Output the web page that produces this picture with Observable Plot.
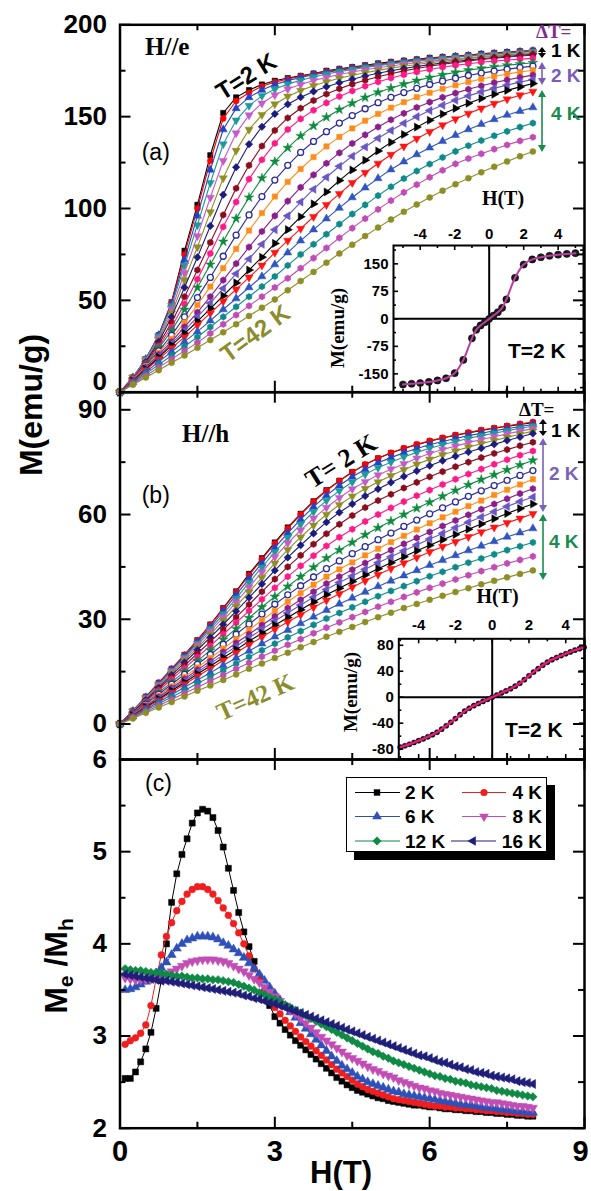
<!DOCTYPE html>
<html><head><meta charset="utf-8">
<script src="https://cdn.jsdelivr.net/npm/d3@7"></script>
<script src="https://cdn.jsdelivr.net/npm/@observablehq/plot@0.6"></script>
<style>
html,body{margin:0;padding:0;background:#fff}
#wrap{position:relative;width:591px;height:1191px;overflow:hidden;background:#fff}
#wrap > svg{position:absolute;left:0;top:0}
</style></head><body><div id="wrap"></div>
<script>
// ---------- DATA ----------
// field grid (T) for panels (a) and (b)
const fieldAB = [0,0.25,0.5,0.75,1,1.25,1.5,1.75,2,2.25,2.5,2.75,3,3.25,3.5,3.75,4,4.25,4.5,4.75,5,5.25,5.5,5.75,6,6.25,6.5,6.75,7,7.25,7.5,7.75,8];
const temps = [2,3,4,5,6,7,8,9,10,12,14,16,18,20,22,26,30,34,38,42];

// (a) H//e  M (emu/g)
const ma2 = [0,8,18,31,49,77,102,129,152,160.5,164.5,167.5,169.5,171,172.2,173.5,175,176,177,178,179,179.8,180.5,181.2,182,182.5,183,183.5,184.2,184.7,185.2,185.6,186];
const ma3 = [0,8,18,31,49,75,100,126,149,158.5,163,166.5,168.8,170.5,172,173.3,174.6,175.7,176.7,177.7,178.6,179.5,180.3,181,181.7,182.3,182.9,183.4,184,184.5,185,185.5,186];
const ma4 = [0,8,18,31,48,72,96,121,143,154.5,160.5,164.5,167.5,169.6,171.3,172.8,174.1,175.3,176.3,177.3,178.2,179.1,179.9,180.6,181.3,182,182.6,183.1,183.7,184.2,184.7,185.2,185.7];
const ma5 = [0,8,18,30.5,47,69,91,114,135,148,156,161.3,165,167.7,169.8,171.6,173.2,174.5,175.7,176.8,177.8,178.7,179.5,180.3,181,181.7,182.3,182.9,183.4,183.9,184.4,184.9,185.4];
const ma6 = [0,8,17.5,29.5,45,65,85,106,126,141,150.8,157.3,161.8,165,167.5,169.6,171.4,172.9,174.3,175.5,176.6,177.6,178.5,179.3,180.1,180.8,181.5,182.1,182.7,183.3,183.8,184.3,184.8];
const ma7 = [0,8,17,28.5,43,61,79,98,116.5,131.5,143,151,156.8,161,164.2,166.8,169,170.9,172.5,173.9,175.2,176.4,177.4,178.4,179.3,180.1,180.9,181.6,182.3,182.9,183.5,184,184.5];
const ma8 = [0,7.5,16.5,27.5,41,57,73.5,90.5,107.5,122.5,135,144.5,151.5,156.7,160.6,163.7,166.3,168.5,170.4,172.1,173.6,175,176.2,177.3,178.3,179.2,180,180.8,181.5,182.2,182.8,183.4,184];
const ma9 = [0,7.5,16,26,38,52,66.5,81.5,96.5,111,123.5,134,142.5,149.3,154.6,158.8,162.3,165.2,167.7,169.8,171.7,173.4,174.9,176.2,177.4,178.5,179.4,180.3,181.1,181.8,182.4,183,183.5];
const ma10 = [0,7.5,15.5,25,35.5,48,61.5,75.5,90,103.5,116,126.5,135.5,143,148.8,153.5,157.5,161,164,166.6,168.9,171,172.8,174.3,175.7,176.9,177.9,178.8,179.6,180.2,180.8,181.3,181.7];
const ma12 = [0,7,15,24,33.5,45,57,69.5,82,94.5,106,116.5,125.5,133,139.5,145,149.7,153.8,157.3,160.4,163.2,165.6,167.7,169.6,171.3,172.8,174.1,175.3,176.3,177.2,178,178.7,179.3];
const ma14 = [0,7,14.5,22.5,31,41,51.5,62.5,74,85.5,96.5,106.5,115.5,123.5,130.5,136.5,141.8,146.5,150.6,154.3,157.6,160.5,163.1,165.4,167.5,169.3,170.9,172.4,173.7,174.8,175.8,176.7,177.5];
const ma16 = [0,7,14,21.5,29,38,47.5,57.5,67.5,78,88,97.5,106.5,114.5,121.5,128,133.8,139,143.6,147.8,151.5,154.9,157.9,160.6,163,165.2,167.1,168.9,170.5,171.9,173.2,174.3,175.3];
const ma18 = [0,6.5,13.5,20.5,27.5,35.5,43.5,52,61,70,79,87.5,96,104,111.5,118.3,124.6,130.3,135.4,140.1,144.4,148.3,151.8,155,157.9,160.5,162.8,164.9,166.8,168.5,170,171.4,172.6];
const ma20 = [0,6.5,13,19.5,26.5,33.5,41,48.5,56.5,64.5,72.5,80.5,88.5,96,103.5,110.5,117,123,128.5,133.5,138.2,142.5,146.4,150,153.3,156.2,158.9,161.3,163.5,165.4,167.2,168.8,170.2];
const ma22 = [0,6.2,12.5,19,25.5,32,38.5,45.5,52.5,59.5,66.5,73.5,81,88.5,95.5,102.5,109,115.2,121,126.3,131.3,136,140.3,144.3,148,151.4,154.5,157.3,159.9,162.2,164.3,166.2,168];
const ma26 = [0,6,12,18,24,30,36.5,43,49.5,56,62.5,69,76,82.5,89,95.5,102,108,114,119.5,124.5,129.3,133.8,138,141.8,145.4,148.7,151.7,154.5,157.1,159.5,161.7,163.7];
const ma30 = [0,5.5,11,16.5,22,27.5,33,39,45,51,57,63,69.5,76,82.5,88.5,94.5,100.3,106,111.3,116.4,121.2,125.5,129.4,133.1,136.6,139.9,143,145.9,148.5,150.9,153,155];
const ma34 = [0,5,10,15,20,25,30,35.5,41,46.5,52,57.5,63,69,75,80.5,86,91.5,97,102,107,111.8,116.3,120.4,124.2,127.8,131.1,134.2,137,139.6,142,144.3,146.5];
const ma38 = [0,4.5,9,13.5,18,22.5,27,32,37,42,47,52,57,62,67.5,73,78.5,84,89.3,94.5,99.5,104.3,108.8,113,117,120.8,124.3,127.2,129.8,132.3,134.6,136.8,138.8];
const ma42 = [0,4,8,12,16,20,24.2,28.4,32.6,37,41.5,46,50.5,55.5,60.5,65.5,70.5,75.5,80.3,85,89.6,94,98.2,102.2,106,109.7,113.2,116.5,119.7,122.7,125.6,128.4,131];

// (b) H//h  M (emu/g)
const mb2 = [0,3.8,7.8,11.8,15.8,19.8,24,28.5,33.2,38,43,47.5,52,56.3,60.2,63.8,67,69.7,72.2,74.3,76.1,77.6,78.9,80,81,81.9,82.7,83.4,84.1,84.7,85.3,85.8,86.3];
const mb3 = [0,3.8,7.8,11.8,15.8,19.8,24,28.4,33,37.8,42.6,47.2,51.7,56,60,63.6,66.8,69.6,72.1,74.3,76.1,77.7,79,80.1,81.1,82,82.8,83.5,84.2,84.8,85.4,86,86.5];
const mb4 = [0,3.7,7.6,11.5,15.5,19.4,23.5,27.8,32.3,37,41.6,46.1,50.5,54.7,58.6,62.2,65.5,68.3,70.8,72.9,74.8,76.3,77.7,78.9,80,80.9,81.8,82.6,83.3,84,84.6,85.2,85.8];
const mb5 = [0,3.7,7.5,11.3,15.2,19.1,23.1,27.2,31.5,36,40.5,44.9,49.3,53.4,57.2,60.8,64,66.8,69.3,71.5,73.4,75,76.5,77.8,79,80,80.9,81.8,82.6,83.3,84,84.7,85.3];
const mb6 = [0,3.6,7.3,11.1,14.9,18.7,22.6,26.5,30.6,34.9,39.2,43.5,47.8,51.8,55.5,58.9,62,64.8,67.3,69.4,71.3,73,74.5,76.1,77.5,78.6,79.6,80.6,81.5,82.3,83.1,83.9,84.6];
const mb7 = [0,3.5,7.1,10.8,14.5,18.2,21.9,25.7,29.6,33.7,37.8,41.9,46,49.9,53.5,56.9,60,62.8,65.2,67.4,69.3,71.1,72.8,74.4,75.8,77.1,78.2,79.3,80.3,81.2,82.1,83,83.9];
const mb8 = [0,3.4,6.9,10.4,14,17.6,21.2,24.8,28.5,32.3,36.2,40.1,44,47.7,51.2,54.6,57.8,60.6,63,65.3,67.3,69.2,70.9,72.5,74,75.4,76.7,77.9,79,80.1,81.2,82.2,83.2];
const mb9 = [0,3.3,6.6,10,13.4,16.8,20.2,23.6,27,30.6,34.2,37.9,41.5,45,48.3,51.5,54.5,57.2,59.7,62,64,65.8,67.6,69.2,70.8,72.3,73.7,75,76.3,77.5,78.6,79.7,80.7];
const mb10 = [0,3.2,6.4,9.6,12.8,16,19.2,22.4,25.7,29,32.4,35.7,39,42.2,45.3,48.2,51,53.5,55.8,58,60,61.9,63.7,65.4,67,68.6,70.1,71.6,73,74.4,75.7,77,78.2];
const mb12 = [0,3,6,9,12,15,18.1,21.1,24.2,27.3,30.4,33.5,36.5,39.4,42.2,44.9,47.5,49.8,52,54.2,56.2,58.1,60,61.8,63.5,65.2,66.9,68.5,70,71.4,72.8,74.2,75.5];
const mb14 = [0,2.8,5.7,8.5,11.4,14.2,17.1,19.9,22.8,25.7,28.6,31.5,34.3,37,39.6,42.1,44.5,46.7,48.8,50.8,52.8,54.7,56.6,58.4,60.2,61.9,63.6,65.2,66.8,68.3,69.8,71.2,72.6];
const mb16 = [0,2.7,5.4,8.1,10.8,13.5,16.2,18.9,21.6,24.3,27,29.7,32.4,35,37.5,39.9,42.2,44.3,46.3,48.3,50.2,52.1,53.9,55.7,57.5,59.2,60.8,62.4,64,65.6,67.1,68.6,70.1];
const mb18 = [0,2.6,5.2,7.7,10.3,12.9,15.5,18,20.6,23.2,25.7,28.3,30.8,33.2,35.6,37.9,40.2,42.2,44.2,46.1,48,49.8,51.6,53.3,55,56.7,58.3,59.9,61.5,63,64.5,66,67.4];
const mb20 = [0,2.5,5,7.4,9.9,12.4,14.9,17.3,19.8,22.2,24.7,27.1,29.5,31.8,34.1,36.3,38.5,40.5,42.4,44.3,46.2,47.9,49.6,51.3,53,54.6,56.2,57.8,59.3,60.8,62.3,63.7,65];
const mb22 = [0,2.4,4.8,7.1,9.5,11.9,14.3,16.6,19,21.3,23.7,26,28.3,30.5,32.7,34.9,37,38.9,40.8,42.7,44.5,46.2,47.9,49.6,51.2,52.8,54.3,55.8,57.3,58.8,60.3,61.7,63];
const mb26 = [0,2.3,4.6,6.8,9.1,11.4,13.7,15.9,18.2,20.4,22.7,24.9,27.1,29.2,31.3,33.4,35.4,37.3,39.2,41,42.8,44.5,46.1,47.7,49.3,50.8,52.2,53.6,55,56.3,57.6,58.9,60.2];
const mb30 = [0,2.1,4.2,6.3,8.4,10.5,12.6,14.7,16.8,18.9,20.9,23,25,26.9,28.8,30.7,32.6,34.4,36.1,37.8,39.4,41,42.5,44,45.5,46.9,48.3,49.7,51,52.3,53.6,54.8,56];
const mb34 = [0,1.9,3.9,5.8,7.7,9.6,11.6,13.5,15.4,17.3,19.2,21.1,23,24.8,26.6,28.4,30.2,31.8,33.4,35,36.6,38.1,39.5,40.9,42.3,43.6,44.9,46.2,47.4,48.6,49.8,50.9,52];
const mb38 = [0,1.8,3.5,5.3,7,8.8,10.5,12.3,14,15.8,17.5,19.3,21,22.7,24.3,26,27.6,29.1,30.6,32.1,33.6,35,36.4,37.7,39,40.2,41.4,42.6,43.8,44.9,46,47,48];
const mb42 = [0,1.6,3.2,4.7,6.3,7.9,9.5,11,12.6,14.2,15.8,17.3,18.9,20.4,22,23.5,25,26.4,27.8,29.2,30.6,31.9,33.2,34.4,35.6,36.7,37.8,38.9,40,41,42,43,44];

// (c) Me/Mh ratio
const fieldC = [0.1,0.2,0.3,0.4,0.5,0.6,0.7,0.8,0.9,1.0,1.1,1.2,1.3,1.4,1.5,1.6,1.7,1.8,1.9,2.0,2.1,2.2,2.3,2.4,2.5,2.6,2.7,2.8,2.9,3.0,3.1,3.2,3.3,3.4,3.5,3.6,3.7,3.8,3.9,4.0,4.1,4.2,4.3,4.4,4.5,4.6,4.7,4.8,4.9,5.0,5.1,5.2,5.3,5.4,5.5,5.6,5.7,5.8,5.9,6.0,6.1,6.2,6.3,6.4,6.5,6.6,6.7,6.8,6.9,7.0,7.1,7.2,7.3,7.4,7.5,7.6,7.7,7.8,7.9,8.0];
const legendLabels = ["2 K","4 K","6 K","8 K","12 K","16 K"];
const rc2 = [2.54,2.54,2.61,2.72,2.86,3.04,3.3,3.6,4.0,4.45,4.76,4.97,5.14,5.31,5.42,5.46,5.44,5.37,5.23,5.05,4.82,4.58,4.34,4.13,3.97,3.81,3.64,3.48,3.33,3.21,3.14,3.07,3.01,2.95,2.9,2.85,2.8,2.75,2.7,2.65,2.6,2.55,2.51,2.47,2.44,2.41,2.39,2.37,2.35,2.33,2.32,2.3,2.29,2.28,2.27,2.26,2.25,2.25,2.24,2.23,2.23,2.22,2.21,2.21,2.2,2.2,2.19,2.19,2.18,2.18,2.17,2.17,2.16,2.16,2.15,2.15,2.14,2.14,2.13,2.13];
const rc4 = [2.91,2.95,2.98,3.03,3.12,3.33,3.62,3.88,4.08,4.23,4.36,4.46,4.54,4.59,4.62,4.62,4.59,4.54,4.47,4.39,4.31,4.22,4.12,4.0,3.87,3.73,3.6,3.48,3.39,3.31,3.24,3.17,3.11,3.05,2.99,2.94,2.89,2.84,2.79,2.74,2.69,2.64,2.6,2.56,2.52,2.48,2.45,2.42,2.4,2.38,2.36,2.34,2.32,2.31,2.3,2.29,2.28,2.27,2.26,2.25,2.24,2.24,2.23,2.23,2.22,2.22,2.21,2.21,2.2,2.2,2.19,2.19,2.18,2.18,2.17,2.17,2.16,2.16,2.15,2.15];
const rc6 = [3.5,3.51,3.53,3.56,3.59,3.63,3.68,3.74,3.8,3.88,3.95,4.0,4.04,4.06,4.08,4.08,4.08,4.07,4.05,4.01,3.98,3.94,3.9,3.85,3.79,3.73,3.67,3.6,3.53,3.46,3.39,3.32,3.26,3.2,3.14,3.08,3.02,2.96,2.9,2.84,2.78,2.73,2.68,2.64,2.6,2.56,2.53,2.5,2.48,2.46,2.44,2.42,2.4,2.39,2.37,2.36,2.35,2.34,2.33,2.32,2.31,2.3,2.29,2.28,2.27,2.26,2.25,2.25,2.24,2.23,2.22,2.22,2.21,2.2,2.2,2.19,2.18,2.18,2.17,2.17];
const rc8 = [3.63,3.62,3.61,3.61,3.61,3.62,3.63,3.65,3.67,3.7,3.73,3.76,3.79,3.81,3.82,3.83,3.83,3.83,3.82,3.81,3.79,3.76,3.73,3.7,3.66,3.62,3.58,3.53,3.48,3.43,3.38,3.33,3.28,3.24,3.19,3.14,3.09,3.04,2.99,2.95,2.91,2.87,2.83,2.79,2.76,2.73,2.7,2.67,2.64,2.62,2.59,2.57,2.55,2.52,2.5,2.48,2.46,2.44,2.43,2.41,2.4,2.38,2.37,2.36,2.35,2.34,2.33,2.32,2.31,2.3,2.29,2.28,2.28,2.27,2.26,2.25,2.24,2.24,2.23,2.22];
const rc12 = [3.73,3.72,3.71,3.71,3.7,3.69,3.69,3.68,3.67,3.66,3.65,3.65,3.64,3.63,3.63,3.62,3.62,3.61,3.61,3.6,3.59,3.58,3.56,3.54,3.52,3.5,3.47,3.45,3.42,3.4,3.37,3.34,3.31,3.28,3.25,3.22,3.19,3.16,3.13,3.1,3.07,3.04,3.01,2.98,2.95,2.92,2.89,2.86,2.83,2.81,2.78,2.76,2.73,2.71,2.69,2.67,2.65,2.63,2.61,2.59,2.57,2.56,2.54,2.53,2.51,2.5,2.49,2.47,2.46,2.45,2.44,2.43,2.41,2.4,2.39,2.38,2.37,2.36,2.35,2.34];
const rc16 = [3.67,3.66,3.65,3.64,3.63,3.62,3.61,3.6,3.6,3.59,3.58,3.57,3.56,3.55,3.54,3.53,3.52,3.51,3.5,3.49,3.48,3.47,3.46,3.44,3.43,3.41,3.4,3.38,3.36,3.35,3.33,3.31,3.29,3.27,3.25,3.23,3.21,3.19,3.17,3.15,3.13,3.11,3.09,3.07,3.05,3.03,3.01,2.99,2.97,2.95,2.93,2.91,2.89,2.87,2.85,2.83,2.81,2.79,2.78,2.76,2.74,2.72,2.71,2.69,2.67,2.66,2.64,2.63,2.61,2.6,2.59,2.57,2.56,2.55,2.54,2.53,2.51,2.5,2.49,2.48];

// insets: T = 2 K loops
const insetA_H = [-5,-4.5,-4,-3.5,-3,-2.5,-2,-1.5,-1,-0.75,-0.5,-0.25,0,0.25,0.5,0.75,1,1.5,2,2.5,3,3.5,4,4.5,5];
const insetA_M = [-179,-177,-175,-172,-168,-162,-148,-112,-53,-30,-18,-9,0,9,18,30,53,112,148,162,168,172,175,177,179];
const insetB_H = [-5,-4.75,-4.5,-4.25,-4,-3.75,-3.5,-3.25,-3,-2.75,-2.5,-2.25,-2,-1.75,-1.5,-1.25,-1,-0.75,-0.5,-0.25,0,0.25,0.5,0.75,1,1.25,1.5,1.75,2,2.25,2.5,2.75,3,3.25,3.5,3.75,4,4.25,4.5,4.75,5];
const insetB_M = [-77,-74.8,-72.5,-69.8,-67,-64.2,-61,-57.8,-54,-49.3,-44,-38.7,-33,-27,-21.5,-17,-13,-9.7,-6.5,-3.2,0,3.2,6.5,9.7,13,17,21.5,27,33,38.7,44,49.3,54,57.8,61,64.2,67,69.8,72.5,74.8,77];

// axis tick values
const xMajor = [0,3,6,9], xMinor = [1.5,4.5,7.5];
const yMajorA = [0,50,100,150,200], yMinorA = [25,75,125,175];
const yMajorB = [0,30,60,90], yMinorB = [15,45,75];
const yMajorC = [2,3,4,5,6], yMinorC = [2.5,3.5,4.5,5.5];
const inAx = [-4,-2,0,2,4], inAxMin = [-5,-3,-1,1,3,5];
const inAy = [-150,-75,0,75,150], inAyMin = [-187.5,-112.5,-37.5,37.5,112.5,187.5];
const inBy = [-80,-40,0,40,80], inByMin = [-60,-20,20,60];

// ---------- STYLE ----------
const SANS = "'Liberation Sans', Arial, sans-serif";
const SERIF = "'Liberation Serif', 'Times New Roman', serif";
const S3 = Math.sqrt(3);
const triSym = (a) => ({draw(ctx, size) {
  const y = -Math.sqrt(size / (S3 * 3));
  const pts = [[0, 2 * y], [-S3 * y, -y], [S3 * y, -y]];
  const c = Math.cos(a), s = Math.sin(a);
  pts.forEach(([px, py], i) => { const X = px * c - py * s, Y = px * s + py * c; if (i) ctx.lineTo(X, Y); else ctx.moveTo(X, Y); });
  ctx.closePath();
}});
const triUp = triSym(0), triDown = triSym(Math.PI), triLeft = triSym(-Math.PI / 2), triRight = triSym(Math.PI / 2);
const hexSym = {draw(ctx, size) {
  const s = Math.sqrt(2 * size / (3 * S3));
  for (let i = 0; i < 6; i++) { const a = Math.PI / 3 * i + Math.PI / 6; const X = s * Math.cos(a), Y = s * Math.sin(a); if (i) ctx.lineTo(X, Y); else ctx.moveTo(X, Y); }
  ctx.closePath();
}};
const diamSym = {draw(ctx, size) { const r = Math.sqrt(size / 2); ctx.moveTo(0, -r); ctx.lineTo(r, 0); ctx.lineTo(0, r); ctx.lineTo(-r, 0); ctx.closePath(); }};

const abStyles = [
  {color: "#000000", sym: "square"},
  {color: "#ff0000", sym: "circle"},
  {color: "#2343c4", sym: triUp},
  {color: "#1f9a9a", sym: triDown},
  {color: "#c85ac8", sym: triDown},
  {color: "#8e8e22", sym: triDown},
  {color: "#1b1b80", sym: diamSym},
  {color: "#8a0d1e", sym: hexSym},
  {color: "#ff1a8a", sym: hexSym},
  {color: "#0e8a3e", sym: "star"},
  {color: "#2b2ba0", sym: "circle", fill: "#ffffff"},
  {color: "#ff8c1a", sym: "square"},
  {color: "#8a1f8a", sym: hexSym},
  {color: "#6a55c4", sym: triLeft},
  {color: "#000000", sym: triRight},
  {color: "#ff1414", sym: triDown},
  {color: "#2f55c0", sym: triUp},
  {color: "#0f8a8a", sym: hexSym},
  {color: "#c04cb4", sym: hexSym},
  {color: "#8e8e26", sym: "circle"}
];
const cStyles = [
  {color: "#000000", sym: "square"},
  {color: "#f01e1e", sym: "circle"},
  {color: "#2e50b8", sym: triUp},
  {color: "#c24db5", sym: triDown},
  {color: "#0f8a44", sym: diamSym},
  {color: "#1f1f7a", sym: triLeft}
];

const seriesA = [ma2,ma3,ma4,ma5,ma6,ma7,ma8,ma9,ma10,ma12,ma14,ma16,ma18,ma20,ma22,ma26,ma30,ma34,ma38,ma42];
const seriesB = [mb2,mb3,mb4,mb5,mb6,mb7,mb8,mb9,mb10,mb12,mb14,mb16,mb18,mb20,mb22,mb26,mb30,mb34,mb38,mb42];
const seriesC = [rc2,rc4,rc6,rc8,rc12,rc16];

// ---------- LAYOUT ----------
const W = 591, HT = 1191;
const X0 = 119.5, X1 = 584;
const wrap = document.getElementById("wrap");

function layer(opts) {
  const svg = Plot.plot({width: W, height: HT, ...opts, style: {background: "transparent", overflow: "visible"}});
  wrap.appendChild(svg);
  return svg;
}

function innerTicks({xMaj, xMin, yMaj, yMin, pw, ph, maj = 11, min = 6, sw = 2}) {
  const st = {stroke: "black", strokeWidth: sw};
  const m = [];
  const ty = (vals, len) => {
    m.push(Plot.tickY(vals, {y: d => d, insetRight: pw - len, ...st}));
    m.push(Plot.tickY(vals, {y: d => d, insetLeft: pw - len, ...st}));
  };
  const tx = (vals, len) => {
    m.push(Plot.tickX(vals, {x: d => d, insetTop: ph - len, ...st}));
    m.push(Plot.tickX(vals, {x: d => d, insetBottom: ph - len, ...st}));
  };
  ty(yMaj, maj); ty(yMin, min); tx(xMaj, maj); tx(xMin, min);
  return m;
}

function seriesMarks(xs, series, styles, r, lw) {
  return series.flatMap((vals, k) => {
    const s = styles[k];
    const data = vals.map((v, i) => ({h: xs[i], v}));
    return [
      Plot.line(data, {x: "h", y: "v", stroke: s.color, strokeWidth: lw}),
      Plot.dot(data, {x: "h", y: "v", r, symbol: s.sym, fill: s.fill || s.color, stroke: s.color, strokeWidth: s.fill ? 1.3 : 0.5})
    ];
  });
}

const tickFont = {fontSize: 26, fontWeight: "bold", fontFamily: SANS, fill: "black", tickFormat: d => String(d)};

// Panel (a)
const aTop = 24.3, aBot = 391.7;
layer({
  marginLeft: X0, marginRight: W - X1, marginTop: aTop, marginBottom: HT - aBot,
  x: {domain: [0, 9], axis: null}, y: {domain: [0, 200]},
  marks: [
    ...seriesMarks(fieldAB, seriesA, abStyles, 3, 1.1),
    Plot.frame({stroke: "black", strokeWidth: 2.5}),
    ...innerTicks({xMaj: xMajor, xMin: xMinor, yMaj: yMajorA, yMin: yMinorA, pw: X1 - X0, ph: aBot - aTop}),
    Plot.axisY(yMajorA.filter(d => d > 0), {tickSize: 0, tickPadding: 13, label: null, ...tickFont}),
    Plot.text(yMajorA.filter(d => d === 0), {y: d => d, text: d => String(d), frameAnchor: "left", textAnchor: "end", dx: -13, dy: -11, fontSize: 26, fontWeight: "bold", fontFamily: SANS, fill: "black"})
  ]
});

// Panel (b)
const bTop = 391.7, bBot = 759;
layer({
  marginLeft: X0, marginRight: W - X1, marginTop: bTop, marginBottom: HT - bBot,
  x: {domain: [0, 9], axis: null}, y: {domain: [-10.17, 95.04]},
  marks: [
    ...seriesMarks(fieldAB, seriesB, abStyles, 3, 1.1),
    Plot.frame({stroke: "black", strokeWidth: 2.5}),
    ...innerTicks({xMaj: xMajor, xMin: xMinor, yMaj: yMajorB, yMin: yMinorB, pw: X1 - X0, ph: bBot - bTop}),
    Plot.axisY(yMajorB, {tickSize: 0, tickPadding: 13, label: null, ...tickFont})
  ]
});

// Panel (c)
const cTop = 759, cBot = 1127.7;
layer({
  marginLeft: X0, marginRight: W - X1, marginTop: cTop, marginBottom: HT - cBot,
  x: {domain: [0, 9]}, y: {domain: [2, 6]},
  marks: [
    ...seriesMarks(fieldC, seriesC, cStyles, 3.4, 1),
    Plot.frame({stroke: "black", strokeWidth: 2.5}),
    ...innerTicks({xMaj: xMajor, xMin: xMinor, yMaj: yMajorC, yMin: yMinorC, pw: X1 - X0, ph: cBot - cTop}),
    Plot.axisY(yMajorC, {tickSize: 0, tickPadding: 13, label: null, ...tickFont}),
    Plot.axisX(xMajor.filter(d => d < 9), {tickSize: 0, tickPadding: 12, label: null, ...tickFont, fontSize: 29}),
    Plot.axisX(xMajor.filter(d => d === 9), {tickSize: 0, tickPadding: 12, label: null, ...tickFont, fontSize: 29, dx: -4})
  ]
});

// Inset (a)
const iaL = 393, iaR = 583, iaT = 245, iaB = 391.7;
const inFont = {fontSize: 15, fontWeight: "bold", fontFamily: SANS, fill: "black", tickFormat: d => String(d)};
layer({
  marginLeft: iaL, marginRight: W - iaR, marginTop: iaT, marginBottom: HT - iaB,
  x: {domain: [-5.55, 5.47]}, y: {domain: [-200, 200]},
  marks: [
    Plot.ruleX([0], {stroke: "black", strokeWidth: 2}),
    Plot.ruleY([0], {stroke: "black", strokeWidth: 2}),
    Plot.dot(insetA_H.map((h, i) => ({h, m: insetA_M[i]})), {x: "h", y: "m", r: 3.6, fill: "#1a1a1a", stroke: "#000", strokeWidth: 0.5}),
    Plot.line(insetA_H.map((h, i) => ({h, m: insetA_M[i]})), {x: "h", y: "m", stroke: "#b8419f", strokeWidth: 2, curve: "catmull-rom"}),
    Plot.frame({stroke: "black", strokeWidth: 2}),
    ...innerTicks({xMaj: inAx, xMin: inAxMin, yMaj: inAy, yMin: inAyMin, pw: iaR - iaL, ph: iaB - iaT, maj: 5, min: 3, sw: 1.6}),
    Plot.axisX(inAx, {anchor: "top", tickSize: 0, tickPadding: 7, label: null, ...inFont}),
    Plot.axisY(inAy, {anchor: "left", tickSize: 0, tickPadding: 5, label: null, ...inFont})
  ]
});

// Inset (b)
const ibL = 398.3, ibR = 584, ibT = 638.3, ibB = 759;
layer({
  marginLeft: ibL, marginRight: W - ibR, marginTop: ibT, marginBottom: HT - ibB,
  x: {domain: [-5.08, 5.02]}, y: {domain: [-96, 90]},
  marks: [
    Plot.ruleX([0], {stroke: "black", strokeWidth: 2}),
    Plot.ruleY([0], {stroke: "black", strokeWidth: 2}),
    Plot.dot(insetB_H.map((h, i) => ({h, m: insetB_M[i]})), {x: "h", y: "m", r: 2.6, fill: "#111", stroke: "#000", strokeWidth: 0.5}),
    Plot.line(insetB_H.map((h, i) => ({h, m: insetB_M[i]})), {x: "h", y: "m", stroke: "#e8197d", strokeWidth: 2.4, curve: "catmull-rom"}),
    Plot.frame({stroke: "black", strokeWidth: 2}),
    ...innerTicks({xMaj: inAx, xMin: inAxMin, yMaj: inBy, yMin: inByMin, pw: ibR - ibL, ph: ibB - ibT, maj: 5, min: 3, sw: 1.6}),
    Plot.axisX(inAx, {anchor: "top", tickSize: 0, tickPadding: 9, label: null, ...inFont}),
    Plot.axisY(inBy, {anchor: "left", tickSize: 0, tickPadding: 5, label: null, ...inFont})
  ]
});

// ---------- ANNOTATIONS & LABELS ----------
const ov = d3.select(wrap).append("svg").attr("width", W).attr("height", HT)
  .style("position", "absolute").style("left", "0px").style("top", "0px").style("overflow", "visible");
function txt(x, y, s, o = {}) {
  const t = ov.append("text")
    .attr("transform", `translate(${x},${y})` + (o.rotate ? ` rotate(${o.rotate})` : ""))
    .attr("font-family", o.family || SANS).attr("font-size", o.size || 20)
    .attr("font-weight", o.weight || "bold").attr("fill", o.fill || "black")
    .attr("text-anchor", o.anchor || "start");
  if (o.center) t.attr("dominant-baseline", "central");
  t.text(s);
  return t;
}
function vArrow(x, y1, y2, color, head = 7) {
  const g = ov.append("g").attr("fill", color).attr("stroke", color);
  g.append("line").attr("x1", x).attr("x2", x).attr("y1", y1 + head - 1).attr("y2", y2 - head + 1).attr("stroke-width", 1.6);
  g.append("path").attr("stroke", "none").attr("d", `M${x},${y1}L${x - 4},${y1 + head}L${x + 4},${y1 + head}Z`);
  g.append("path").attr("stroke", "none").attr("d", `M${x},${y2}L${x - 4},${y2 - head}L${x + 4},${y2 - head}Z`);
}
const OLIVE = "#8c8c2c", PURP = "#7a5cb8", GREEN = "#1a8c4e";

// panel (a)
txt(145, 55, "H//e", {family: SERIF, size: 25});
txt(141.7, 160, "(a)", {size: 23, weight: "normal"});
txt(246, 76, "T=2 K", {size: 24, rotate: -32, anchor: "middle", center: true});
txt(255, 333, "T=42 K", {size: 24, rotate: -36, anchor: "middle", center: true, fill: OLIVE});
txt(536, 38, "\u0394T=", {family: SERIF, size: 19, fill: "#7d2f8f"});
txt(551, 57, "1 K", {size: 19});
txt(551, 82, "2 K", {size: 19, fill: PURP});
txt(551, 120, "4 K", {size: 19, fill: GREEN});
vArrow(542, 47, 58, "#000", 5);
vArrow(542, 62, 85, PURP);
vArrow(542, 90, 152, GREEN);
// inset (a)
txt(503, 205, "H(T)", {family: SERIF, size: 20, anchor: "middle"});
txt(337, 328, "M(emu/g)", {family: SERIF, size: 19, rotate: -90, anchor: "middle", center: true});
txt(508, 358, "T=2 K", {size: 21});

// panel (b)
txt(182, 442, "H//h", {family: SERIF, size: 25});
txt(141.7, 503, "(b)", {size: 23, weight: "normal"});
txt(341, 461, "T= 2 K", {family: SERIF, size: 26, rotate: -32, anchor: "middle", center: true});
txt(255, 697, "T=42 K", {family: SERIF, size: 25, rotate: -24, anchor: "middle", center: true, fill: OLIVE});
txt(519, 416, "\u0394T=", {family: SERIF, size: 19});
txt(551, 437, "1 K", {size: 19});
txt(549, 480, "2 K", {size: 19, fill: "#7a62b5"});
txt(549, 548, "4 K", {size: 19, fill: GREEN});
vArrow(543, 419, 436, "#000", 5);
vArrow(543, 438, 512, "#7a62b5");
vArrow(543, 514, 580, GREEN);
// inset (b)
txt(497.5, 603, "H(T)", {family: SERIF, size: 20, anchor: "middle"});
txt(350, 692, "M(emu/g)", {family: SERIF, size: 19, rotate: -90, anchor: "middle", center: true});
txt(505, 737, "T=2 K", {size: 21});

// panel (c)
txt(145, 791, "(c)", {size: 23, weight: "normal"});

// main axis titles
txt(31, 405, "M(emu/g)", {size: 32, rotate: -90, anchor: "middle", center: true});
{
  const t = ov.append("text").attr("transform", "translate(56,966) rotate(-90)")
    .attr("font-family", SANS).attr("font-weight", "bold").attr("font-size", 32)
    .attr("text-anchor", "middle").attr("dominant-baseline", "central");
  t.append("tspan").text("M");
  t.append("tspan").attr("font-size", 21).attr("dy", 9).text("e");
  t.append("tspan").attr("dy", -9).text(" /M");
  t.append("tspan").attr("font-size", 21).attr("dy", 9).text("h");
}
txt(341, 1172, "H(T)", {size: 31, anchor: "middle", center: true});

// legend for panel (c)
{
  const lg = d3.select(wrap).append("div")
    .style("position", "absolute").style("left", "346px").style("top", "777px")
    .style("width", "199px").style("height", "73px").style("background", "#fff")
    .style("border", "1.5px solid #000").style("box-shadow", "8px 8px 0 #000");
  const ls = lg.append("svg").attr("width", 199).attr("height", 73).style("display", "block");
  const rows = [14.5, 38.5, 63];
  const layout = [
    {lx1: 8, lx2: 53, mx: 30, tx: 58, anchor: "start"},
    {lx1: 115, lx2: 159, mx: 137, tx: 195, anchor: "end"},
    {lx1: 8, lx2: 53, mx: 30, tx: 58, anchor: "start"},
    {lx1: 115, lx2: 159, mx: 137, tx: 195, anchor: "end"},
    {lx1: 8, lx2: 53, mx: 30, tx: 58, anchor: "start"},
    {lx1: 104, lx2: 149, mx: 126, tx: 195, anchor: "end"}
  ];
  legendLabels.forEach((lab, k) => {
    const y = rows[Math.floor(k / 2)], p = layout[k], s = cStyles[k];
    ls.append("line").attr("x1", p.lx1).attr("x2", p.lx2).attr("y1", y).attr("y2", y).attr("stroke", s.color).attr("stroke-width", 1);
    const symType = typeof s.sym === "string" ? (s.sym === "square" ? d3.symbolSquare : d3.symbolCircle) : s.sym;
    ls.append("path").attr("transform", `translate(${p.mx},${y})`).attr("d", d3.symbol(symType, Math.PI * 3.6 * 3.6)()).attr("fill", s.color);
    ls.append("text").attr("x", p.tx).attr("y", y).attr("dominant-baseline", "central").attr("text-anchor", p.anchor)
      .attr("font-family", SANS).attr("font-weight", "bold").attr("font-size", 19).text(lab);
  });
}
</script></body></html>
